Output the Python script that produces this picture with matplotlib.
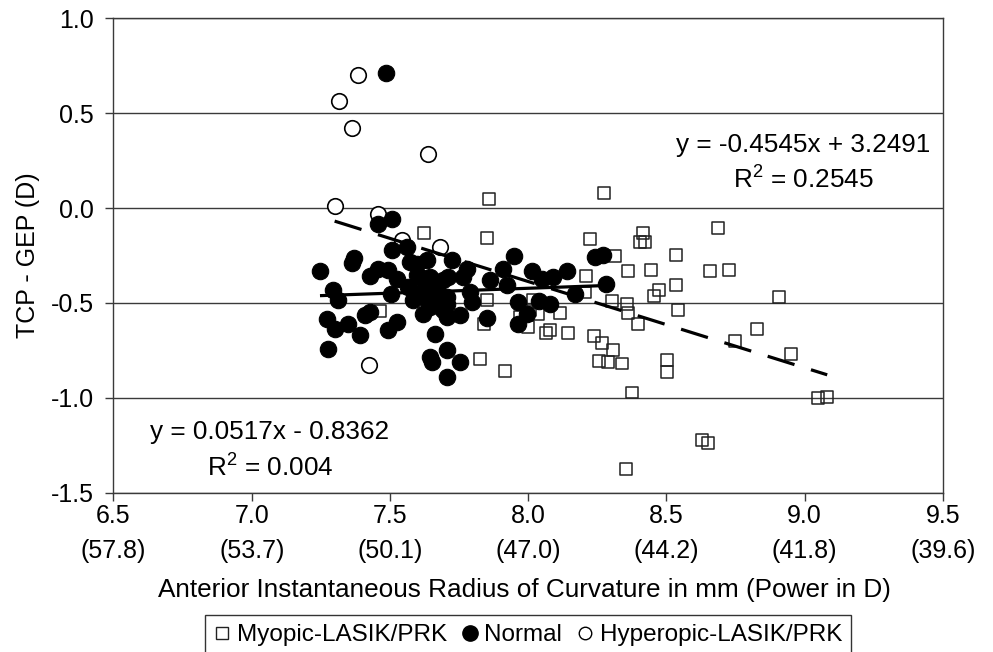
import numpy as np
import matplotlib.pyplot as plt
from matplotlib.lines import Line2D

# ===================== 全局设置 =====================
plt.rcParams['font.family'] = ['Liberation Sans', 'DejaVu Sans']
plt.rcParams['mathtext.default'] = 'regular'
FS_TICK = 18
FS_TEXT = 18.8
FS_LEG = 17.5
GRID_C = '#3a3a3a'

# ===================== 数据 =====================
# Myopic-LASIK/PRK (空心方块)
myopic_x = [7.623, 7.464, 7.860, 8.276, 7.851, 8.223, 8.314, 8.362, 8.211, 8.207,
            7.851, 8.302, 8.359, 8.362, 8.116, 8.007, 8.019, 8.037, 7.970, 8.000,
            7.841, 8.065, 8.079, 8.143, 8.240, 8.266, 8.308, 8.258, 8.288, 8.339,
            7.826, 7.916, 8.377, 8.688, 8.417, 8.405, 8.423, 8.534, 8.445, 8.658,
            8.728, 8.534, 8.473, 8.455, 8.908, 8.543, 8.399, 8.829, 8.750, 8.501,
            8.501, 8.950, 9.048, 9.082, 8.628, 8.650, 8.353]
myopic_y = [-0.130, -0.544, 0.046, 0.079, -0.156, -0.165, -0.253, -0.333, -0.358, -0.445,
            -0.486, -0.489, -0.507, -0.553, -0.551, -0.538, -0.486, -0.556, -0.574, -0.626,
            -0.612, -0.658, -0.644, -0.658, -0.674, -0.710, -0.749, -0.805, -0.810, -0.819,
            -0.796, -0.860, -0.972, -0.105, -0.130, -0.179, -0.179, -0.245, -0.328, -0.333,
            -0.324, -0.403, -0.433, -0.463, -0.468, -0.538, -0.609, -0.635, -0.700, -0.802,
            -0.866, -0.770, -1.003, -0.995, -1.223, -1.240, -1.375]

# Normal (实心圆)
normal_x = [7.486, 7.508, 7.456, 7.247, 7.371, 7.362, 7.428, 7.458, 7.494, 7.525,
            7.509, 7.561, 7.573, 7.295, 7.313, 7.503, 7.566, 7.585, 7.271, 7.301,
            7.350, 7.390, 7.410, 7.428, 7.525, 7.494, 7.620, 7.663, 7.277, 7.645,
            7.651, 7.597, 7.633, 7.609, 7.645, 7.621, 7.669, 7.693, 7.657, 7.705,
            7.645, 7.693, 7.726, 7.778, 7.763, 7.711, 7.910, 7.949, 7.862, 7.923,
            7.790, 7.796, 7.705, 7.754, 7.705, 7.852, 7.965, 8.013, 8.049, 8.091,
            8.140, 8.040, 8.079, 8.170, 8.282, 8.242, 8.272, 7.995, 7.962, 7.708,
            7.754, 7.708, 7.597, 7.645, 7.639]
normal_y = [0.711, -0.056, -0.086, -0.330, -0.261, -0.289, -0.360, -0.319, -0.328, -0.372,
            -0.219, -0.205, -0.284, -0.433, -0.482, -0.454, -0.416, -0.486, -0.587, -0.635,
            -0.609, -0.670, -0.565, -0.547, -0.600, -0.644, -0.556, -0.661, -0.740, -0.784,
            -0.810, -0.293, -0.275, -0.363, -0.363, -0.433, -0.416, -0.380, -0.486, -0.468,
            -0.521, -0.538, -0.275, -0.319, -0.363, -0.363, -0.319, -0.254, -0.381, -0.407,
            -0.442, -0.495, -0.503, -0.565, -0.574, -0.579, -0.495, -0.332, -0.372, -0.363,
            -0.332, -0.489, -0.503, -0.454, -0.398, -0.258, -0.249, -0.556, -0.609, -0.749,
            -0.810, -0.889, -0.354, -0.433, -0.495]

# Hyperopic-LASIK/PRK (空心圆)
hyper_x = [7.300, 7.456, 7.543, 7.680, 7.424, 7.383, 7.317, 7.362, 7.639]
hyper_y = [0.010, -0.033, -0.166, -0.205, -0.828, 0.702, 0.563, 0.423, 0.286]

# 趋势线 (斜率, 截距, 起点, 终点)
normal_fit = (0.0517, -0.8362, 7.247, 8.282)
lasik_fit = (-0.4545, 3.2491, 7.300, 9.082)

x_ticks = [6.5, 7.0, 7.5, 8.0, 8.5, 9.0, 9.5]
x_power = ['57.8', '53.7', '50.1', '47.0', '44.2', '41.8', '39.6']
y_ticks = [1.0, 0.5, 0.0, -0.5, -1.0, -1.5]

# ===================== 绘图 =====================
fig = plt.figure(figsize=(9.93, 6.52), dpi=100)
ax = fig.add_axes([0.1143, 0.2443, 0.8351, 0.7276])

ax.scatter(myopic_x, myopic_y, marker='s', s=74, facecolors='none',
           edgecolors='#222222', linewidths=1.1, zorder=3)
ax.scatter(hyper_x, hyper_y, marker='o', s=125, facecolors='white',
           edgecolors='black', linewidths=1.2, zorder=4)
ax.scatter(normal_x, normal_y, marker='o', s=140, facecolors='black',
           edgecolors='black', linewidths=0.8, zorder=5)

k, b, x0, x1 = normal_fit
xs = np.array([x0, x1])
ax.plot(xs, k * xs + b, color='black', lw=2.3, solid_capstyle='butt', zorder=6)

k, b, x0, x1 = lasik_fit
xs = np.array([x0, x1])
ax.plot(xs, k * xs + b, color='black', lw=2.3, dashes=(8.8, 5.4),
        dash_capstyle='butt', zorder=6)

ax.text(8.995, 0.335, 'y = -0.4545x + 3.2491', fontsize=FS_TEXT, ha='center', va='center')
ax.text(8.995, 0.15, 'R$^{2}$ = 0.2545', fontsize=FS_TEXT, ha='center', va='center')
ax.text(7.066, -1.18, 'y = 0.0517x - 0.8362', fontsize=FS_TEXT, ha='center', va='center')
ax.text(7.066, -1.37, 'R$^{2}$ = 0.004', fontsize=FS_TEXT, ha='center', va='center')

ax.set_xlim(6.5, 9.5)
ax.set_ylim(-1.5, 1.0)
ax.set_xticks(x_ticks)
ax.set_xticklabels([f'{t:.1f}\n({p})' for t, p in zip(x_ticks, x_power)],
                   linespacing=1.6)
ax.set_yticks(y_ticks)
ax.set_yticklabels([f'{t:.1f}' for t in y_ticks])
ax.yaxis.grid(True, color=GRID_C, lw=1.0)
ax.set_axisbelow(True)
for sp in ax.spines.values():
    sp.set_color(GRID_C)
    sp.set_linewidth(1.0)
ax.tick_params(axis='both', direction='out', color=GRID_C, width=1.0, labelsize=FS_TICK)
ax.tick_params(axis='x', length=5.5, pad=2.5)
ax.tick_params(axis='y', length=6, pad=8)

fig.text(28 / 993, 1 - 255 / 652, 'TCP - GEP (D)', rotation=90,
         fontsize=FS_TICK, ha='center', va='center')
fig.text(524 / 993, 1 - 590 / 652,
         'Anterior Instantaneous Radius of Curvature in mm (Power in D)',
         fontsize=FS_TEXT, ha='center', va='center')

handles = [
    Line2D([], [], ls='none', marker='s', ms=8, mfc='none', mec='#222222', mew=1.0),
    Line2D([], [], ls='none', marker='o', ms=11, mfc='black', mec='black'),
    Line2D([], [], ls='none', marker='o', ms=9, mfc='white', mec='black', mew=1.0),
]
labels = ['Myopic-LASIK/PRK', 'Normal', 'Hyperopic-LASIK/PRK']
leg = fig.legend(handles, labels, loc='center', ncol=3,
                 bbox_to_anchor=(528 / 993, 1 - 635 / 652), fontsize=FS_LEG,
                 frameon=True, fancybox=False, edgecolor='black',
                 handlelength=0.7, handletextpad=0.25, columnspacing=0.6,
                 borderpad=0.35, borderaxespad=0)
leg.get_frame().set_linewidth(1.0)

plt.savefig('out.png', dpi=100)
